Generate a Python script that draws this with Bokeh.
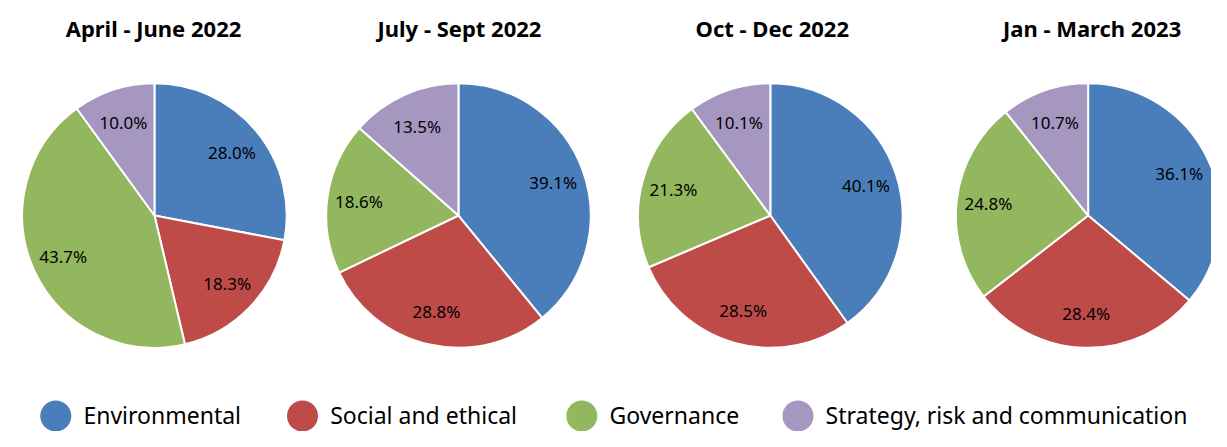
import math
from bokeh.plotting import figure
from bokeh.models import ColumnDataSource, Range1d
from bokeh.core.properties import value
from bokeh.embed import file_html
from bokeh.resources import INLINE

periods = ["April - June 2022", "July - Sept 2022", "Oct - Dec 2022", "Jan - March 2023"]
categories = ["Environmental", "Social and ethical", "Governance", "Strategy, risk and communication"]
environmental = [28.0, 39.1, 40.1, 36.1]
social = [18.3, 28.8, 28.5, 28.4]
governance = [43.7, 18.6, 21.3, 24.8]
strategy = [10.0, 13.5, 10.1, 10.7]
colors = ["#4A7EBB", "#BE4B48", "#93B75E", "#A697C1"]

W, H = 1211, 431          # figure size in screen pixels
RW, RH = 1227, 447        # layout space (data units)
pie_cx = [156, 464, 780, 1102]
pie_cy = 223
pie_r = 134
title_cx = [155, 465, 782, 1106]
title_y = 29
legend_cx = [56, 306, 589, 808]
legend_y = 431

def Y(y):
    return RH - y

p = figure(width=W, height=H, output_backend="svg", toolbar_location=None,
           x_range=Range1d(0, RW), y_range=Range1d(0, RH), min_border=0)
p.axis.visible = False
p.grid.visible = False
p.outline_line_color = None
p.background_fill_color = "white"
p.border_fill_color = "white"

series = [environmental, social, governance, strategy]
wx, wy, wr, ws, we, wc = [], [], [], [], [], []
lx, ly, lt = [], [], []
for i in range(len(periods)):
    vals = [s[i] for s in series]
    tot = sum(vals)
    cum = 0.0
    for j, v in enumerate(vals):
        a0 = math.pi / 2 - 2 * math.pi * cum / tot
        a1 = math.pi / 2 - 2 * math.pi * (cum + v) / tot
        wx.append(pie_cx[i]); wy.append(Y(pie_cy)); wr.append(pie_r)
        ws.append(a0); we.append(a1); wc.append(colors[j])
        mid = (a0 + a1) / 2
        d = 0.76 * pie_r
        lx.append(pie_cx[i] + d * math.cos(mid))
        ly.append(Y(pie_cy) + d * math.sin(mid))
        lt.append(f"{v:.1f}%")
        cum += v

src = ColumnDataSource(dict(x=wx, y=wy, r=wr, s=ws, e=we, c=wc))
p.wedge(x="x", y="y", radius="r", start_angle="s", end_angle="e", direction="clock",
        fill_color="c", line_color="white", line_width=2, source=src)

p.text(x=lx, y=ly, text=lt, text_align="center", text_baseline="middle",
       text_font=value("Noto Sans"), text_font_size="17px", text_color="black")

p.text(x=title_cx, y=[Y(title_y)] * 4, text=periods, text_align="center", text_baseline="middle",
       text_font=value("Noto Sans"), text_font_style="bold", text_font_size="22px", text_color="black")

p.scatter(x=legend_cx, y=[Y(legend_y)] * 4, size=31, marker="circle", fill_color=colors, line_color=None)
p.text(x=[c + 28 for c in legend_cx], y=[Y(legend_y - 1)] * 4, text=categories, text_align="left",
       text_baseline="middle", text_font=value("Noto Sans"), text_font_size="23px", text_color="black")

open("out.html", "w").write(file_html(p, INLINE))
